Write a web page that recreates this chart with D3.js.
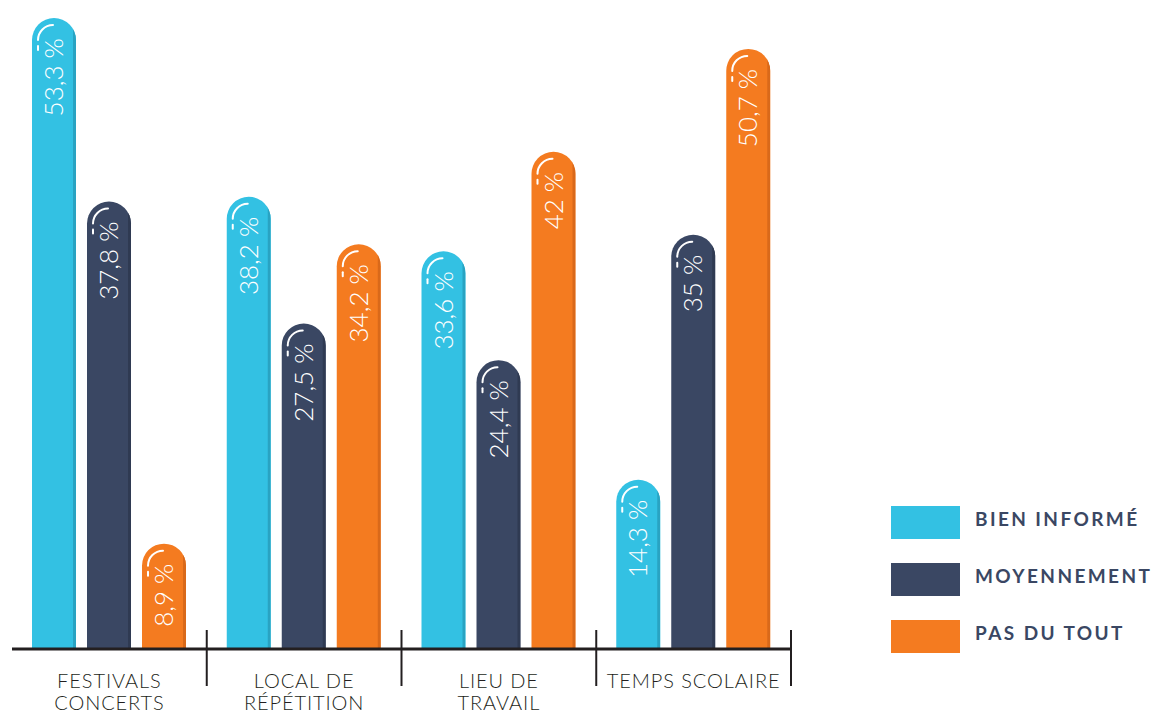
<!DOCTYPE html>
<html><head><meta charset="utf-8">
<script src="https://cdn.jsdelivr.net/npm/d3@7"></script>
<style>body{margin:0;background:#fff}svg{display:block}</style>
</head><body>
<svg id="c" width="1156" height="713"></svg>
<script>
const categories = [["FESTIVALS","CONCERTS"],["LOCAL DE","RÉPÉTITION"],["LIEU DE","TRAVAIL"],["TEMPS SCOLAIRE"]];
const seriesNames = ["BIEN INFORMÉ","MOYENNEMENT","PAS DU TOUT"];
const bienInforme = [53.3, 38.2, 33.6, 14.3];
const moyennement = [37.8, 27.5, 24.4, 35];
const pasDuTout = [8.9, 34.2, 42, 50.7];
const labels = [["53,3 %","38,2 %","33,6 %","14,3 %"],["37,8 %","27,5 %","24,4 %","35 %"],["8,9 %","34,2 %","42 %","50,7 %"]];
const colors = ["#33c1e3","#3a4763","#f47b20"];
const shades = ["#29a3c2","#2f3a52","#d9691a"];

const series = [bienInforme, moyennement, pasDuTout];
const svg = d3.select("#c");
const x0 = d3.scaleBand().domain(d3.range(categories.length)).range([12, 791]).padding(0);
const x1 = d3.scaleBand().domain(d3.range(3)).range([20, 174]).paddingInner(0.2).paddingOuter(0);
const y = d3.scaleLinear().domain([0, 55]).range([649, -2]);
const w = x1.bandwidth(), r = w/2;
const defs = svg.append("defs");

function barPath(x, top, bottom){
  return `M${x},${bottom}V${top+r}A${r},${r} 0 0 1 ${x+w},${top+r}V${bottom}Z`;
}

let id=0;
series.forEach((vals, s) => {
  vals.forEach((v, c) => {
    const x = x0(c) + x1(s);
    const top = y(v), bottom = y(0);
    const cid = "cp"+(id++);
    defs.append("clipPath").attr("id", cid).append("path").attr("d", barPath(x, top, bottom));
    const g = svg.append("g");
    g.append("path").attr("d", barPath(x, top, bottom)).attr("fill", colors[s]);
    g.append("rect").attr("x", x+w-3).attr("y", top).attr("width", 3).attr("height", bottom-top)
      .attr("fill", shades[s]).attr("clip-path", `url(#${cid})`);
    const cx = x + r - 1, cy = top + r, rr = 15;
    g.append("path").attr("d", `M${cx-rr},${cy}A${rr},${rr} 0 0 1 ${cx},${cy-rr}`)
      .attr("fill","none").attr("stroke","#fff").attr("stroke-width",2).attr("stroke-linecap","round");
    g.append("line").attr("x1", cx-rr).attr("x2", cx-rr).attr("y1", cy+6).attr("y2", cy+10)
      .attr("stroke","#fff").attr("stroke-width",2).attr("stroke-linecap","round");
    const tx = x + w/2 + 9, ty = top + 20;
    g.append("text").attr("transform", `translate(${tx},${ty}) rotate(-90)`)
      .attr("text-anchor","end").attr("fill","#fff")
      .style("font-family","Lato, 'Open Sans', sans-serif").style("font-weight",300).style("font-size","26px")
      .text(labels[s][c]);
  });
});

svg.append("line").attr("x1",12).attr("x2",791).attr("y1",649).attr("y2",649).attr("stroke","#231f20").attr("stroke-width",3);
categories.forEach((cat,i)=>{
  const xe = x0(i)+x0.bandwidth();
  svg.append("line").attr("x1",xe).attr("x2",xe).attr("y1",630).attr("y2",686).attr("stroke","#231f20").attr("stroke-width",2);
  const t = svg.append("text").attr("text-anchor","middle").attr("fill","#231f20")
    .style("font-family","Lato, 'Open Sans', sans-serif").style("font-weight",300).style("font-size","20px")
    .style("letter-spacing","0.9px");
  cat.forEach((line,j)=>{
    t.append("tspan").attr("x", x0(i)+x0.bandwidth()/2).attr("y", 688 + j*22).text(line);
  });
});

seriesNames.forEach((n,i)=>{
  const ly = 506 + i*57;
  svg.append("rect").attr("x",891).attr("y",ly).attr("width",69).attr("height",33).attr("fill",colors[i]);
  svg.append("text").attr("x",975).attr("y",ly+20).attr("fill","#3a4763")
    .style("font-family","Lato, 'Open Sans', sans-serif").style("font-weight",700).style("font-size","19px")
    .style("letter-spacing","2.4px").text(n);
});
</script>
</body></html>
